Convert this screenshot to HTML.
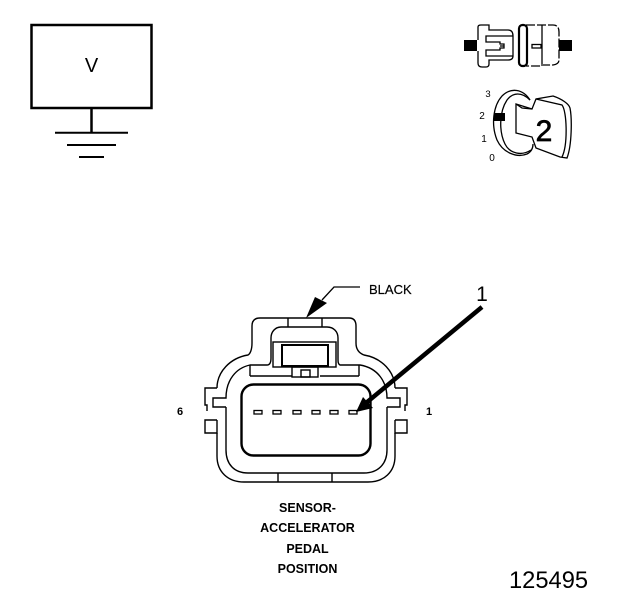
<!DOCTYPE html>
<html>
<head>
<meta charset="utf-8">
<style>
html,body{margin:0;padding:0;background:#fff}
svg{display:block}
text{font-family:"Liberation Sans",sans-serif;fill:#000}
</style>
</head>
<body>
<svg width="624" height="600" viewBox="0 0 624 600" xmlns="http://www.w3.org/2000/svg">
<rect width="624" height="600" fill="#fff"/>

<!-- V box with ground -->
<g fill="none" stroke="#000">
<rect x="31.5" y="25" width="120" height="83" stroke-width="2.5"/>
<path d="M91.5 108V133" stroke-width="2.5"/>
<path d="M55 132.8H128M67 145H116M79 157H104" stroke-width="2"/>
</g>
<text x="91.5" y="72" font-size="20" text-anchor="middle">V</text>

<!-- Top-right connector -->
<g fill="none" stroke="#000" stroke-width="1.3">
<path d="M478 40V27Q478 25 481 25H489V30H508Q513 30 513 36V56Q513 60 508 60H489V64Q489 67 486 67H482Q478 67 478 63V51"/>
<path d="M513 36H486V42H500V44H504V48H500V50H486V56H513" />
<path d="M500 46H504"/>
<path d="M526 25H553Q559 25 559 32V60Q559 64 553 65H541V66H526" stroke-dasharray="9 2"/>
<path d="M542 25V64"/>
<rect x="532" y="44.5" width="9" height="3.5"/>
</g>
<rect x="519" y="25" width="8" height="41" rx="3.5" fill="none" stroke="#000" stroke-width="2.2"/>
<rect x="464" y="40" width="13" height="11" fill="#000"/>
<rect x="559" y="40" width="13" height="11" fill="#000"/>

<!-- Key position icon -->
<g fill="none" stroke="#000" stroke-width="1.3">
<path d="M530 100C523 89 511 87 502 96C493 106 491 125 497 140C503 153 517 158 527 154C531 152 533 149 533 144"/>
<path d="M530 100C522 92 513 92 507 100C499 112 499 132 505 144C510 154 522 156 531 150"/>
<path d="M516 104L532 109L536 99L553 96C562 99 569 104 570 108C572 118 572 145 567 158L560 157L536 148L532 137L516 133Z"/>
<path d="M536 99L562 105C567 111 568 145 562 157"/>
<path d="M516 104L522 108L532 109"/>
</g>
<rect x="494" y="113" width="11" height="8" fill="#000"/>
<text x="488" y="97" font-size="9.5" text-anchor="middle">3</text>
<text x="482" y="119" font-size="10" text-anchor="middle">2</text>
<text x="484" y="142" font-size="10" text-anchor="middle">1</text>
<text x="492" y="161" font-size="10" text-anchor="middle">0</text>
<text x="544" y="141" font-size="30" text-anchor="middle" stroke="#000" stroke-width="0.7">2</text>

<!-- Main connector -->
<g fill="none" stroke="#000" stroke-width="1.4">
<!-- outer shell: hood, shoulders, sides, bottom -->
<path d="M217 388C217 372 230 358 248 355C250 354 252 350 252 343V326Q252 318 260 318H349Q356 318 356 326V343Q356 352 364 355C382 358 395 372 395 388"/>
<path d="M217 433V456C217 472 228 482 244 482H368C384 482 395 472 395 456V433"/>
<path d="M217 388H205V405H207V411"/>
<path d="M395 388H407V405H405V411"/>
<path d="M217 420H205V433H217V420"/>
<path d="M395 420H407V433H395V420"/>
<!-- inner wall -->
<path d="M226 407V450C226 464 234 473 248 473H364C378 473 387 464 387 450V407"/>
<path d="M226 407H213V398H226C226 380 236 368 250 365H267C270 365 271 362 271 358V338C271 332 275 327 281 327H327C334 327 338 332 338 338V358C338 362 338 364 340 365H360C378 368 387 382 387 398H400V407H387"/>
<path d="M288 318V327M322 318V327M278 473V482M332 473V482"/>
<path d="M250 365V376M359 365V376M250 376H292M320 376H359"/>
<rect x="273" y="342" width="63" height="25"/>
<rect x="292" y="367" width="26" height="10"/>
<rect x="301" y="370" width="9" height="7"/>
</g>
<rect x="282" y="345" width="46" height="21" fill="none" stroke="#000" stroke-width="2"/>
<rect x="241.5" y="384.5" width="129" height="71" rx="12" fill="none" stroke="#000" stroke-width="2.4"/>

<g fill="none" stroke="#000" stroke-width="1.3">
<rect x="254" y="410.5" width="8" height="3.5"/>
<rect x="273" y="410.5" width="8" height="3.5"/>
<rect x="293" y="410.5" width="8" height="3.5"/>
<rect x="312" y="410.5" width="8" height="3.5"/>
<rect x="330" y="410.5" width="8" height="3.5"/>
<rect x="349" y="410.5" width="8" height="3.5"/>
</g>

<!-- Arrows -->
<path d="M360 287H334L322 300" fill="none" stroke="#000" stroke-width="1.3"/>
<path d="M306 318L315 297L327 303Z" fill="#000"/>
<path d="M356 412L363 397L373 408Z" fill="#000"/>
<path d="M482 307L366 403" stroke="#000" stroke-width="4.5" fill="none"/>

<!-- Labels -->
<text x="369" y="294" font-size="13" stroke="#000" stroke-width="0.2">BLACK</text>
<text x="482" y="301" font-size="21" text-anchor="middle">1</text>
<text x="180" y="415" font-size="11" font-weight="bold" text-anchor="middle">6</text>
<text x="429" y="415" font-size="11" font-weight="bold" text-anchor="middle">1</text>
<g font-size="12.5" font-weight="bold" text-anchor="middle">
<text x="307.5" y="512">SENSOR-</text>
<text x="307.5" y="532">ACCELERATOR</text>
<text x="307.5" y="553">PEDAL</text>
<text x="307.5" y="573">POSITION</text>
</g>
<text x="509" y="588" font-size="23.7">125495</text>
</svg>
</body>
</html>
